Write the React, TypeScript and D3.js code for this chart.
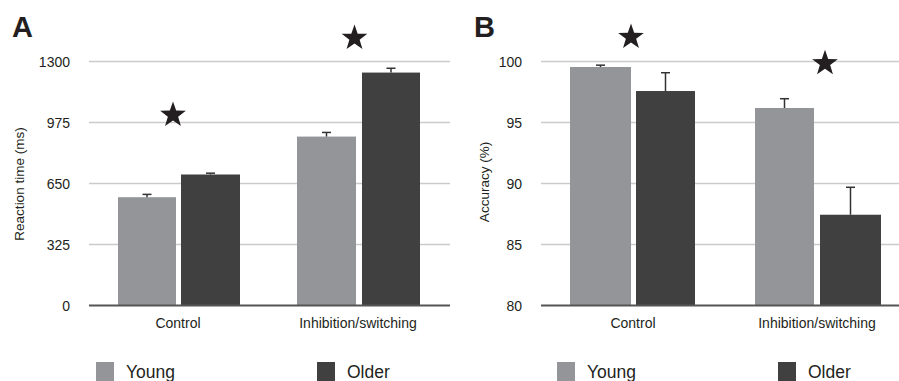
import React from "react";
import * as d3 from "d3";

const categories = ["Control", "Inhibition/switching"];
const groups = ["Young", "Older"];

// Reaction time (ms): means and standard-error sizes
const rtMeans = [[577, 698], [900, 1241]];
const rtErr = [[15, 7], [22, 23]];
const rtTicks = [0, 325, 650, 975, 1300];

// Accuracy (%): means and standard-error sizes
const accMeans = [[99.55, 97.58], [96.19, 87.44]];
const accErr = [[0.15, 1.5], [0.76, 2.25]];
const accTicks = [80, 85, 90, 95, 100];

// significance stars: height on the value axis per category
const rtStars = [1015, 1425];
const accStars = [102.0, 99.85];

const colors = ["#939598", "#404040"];
const font = "'Liberation Sans', Arial, Helvetica, sans-serif";

function starPath(cx: number, cy: number, R: number) {
  const r = R * 0.4;
  const pts: [number, number][] = [];
  for (let i = 0; i < 10; i++) {
    const a = -Math.PI / 2 + (i * Math.PI) / 5;
    const rad = i % 2 === 0 ? R : r;
    pts.push([cx + rad * Math.cos(a), cy + rad * Math.sin(a)]);
  }
  return d3.line()(pts) + "Z";
}

type PanelProps = {
  letter: string;
  left: number;
  plotLeft: number;
  plotRight: number;
  domain: [number, number];
  ticks: number[];
  means: number[][];
  err: number[][];
  stars: number[];
  starX: number[];
  yTitle: string;
  titleX: number;
  titleY: number;
  barGroups: [number, number][][];
  catCenters: number[];
  legendX: [number, number];
};

function Panel(p: PanelProps) {
  const y = d3.scaleLinear().domain(p.domain).range([305.5, 61.5]);
  return (
    <g fontFamily={font}>
      <text x={p.left} y={37} fontSize={29} fontWeight="bold" fill="#231f20">
        {p.letter}
      </text>
      {p.ticks.map((t) => (
        <g key={t}>
          {t !== p.domain[0] && (
            <line x1={p.plotLeft} x2={p.plotRight} y1={y(t)} y2={y(t)} stroke="#cbcbcb" strokeWidth={1.5} />
          )}
          <text x={p.plotLeft - 19} y={y(t) + 5} fontSize={14} textAnchor="end" fill="#231f20">
            {t}
          </text>
        </g>
      ))}
      <text
        transform={`translate(${p.titleX},${p.titleY}) rotate(-90)`}
        fontSize={13.5}
        textAnchor="middle"
        fill="#231f20"
      >
        {p.yTitle}
      </text>
      {p.means.map((row, ci) =>
        row.map((v, gi) => {
          const [x0, x1] = p.barGroups[ci][gi];
          const cx = (x0 + x1) / 2;
          const top = y(v);
          const et = y(v + p.err[ci][gi]);
          return (
            <g key={`${ci}-${gi}`}>
              <rect x={x0} y={top} width={x1 - x0} height={y(p.domain[0]) - top} fill={colors[gi]} />
              <line x1={cx} x2={cx} y1={top} y2={et} stroke="#333" strokeWidth={1.5} />
              <line x1={cx - 4.5} x2={cx + 4.5} y1={et} y2={et} stroke="#333" strokeWidth={1.5} />
            </g>
          );
        })
      )}
      <line x1={p.plotLeft} x2={p.plotRight} y1={y(p.domain[0])} y2={y(p.domain[0])} stroke="#555" strokeWidth={2} />
      {categories.map((c, i) => (
        <text key={c} x={p.catCenters[i]} y={328} fontSize={14} textAnchor="middle" fill="#231f20">
          {c}
        </text>
      ))}
      {p.stars.map((v, i) => (
        <path key={i} d={starPath(p.starX[i], y(v), 13.5)} fill="#231f20" />
      ))}
      {groups.map((g, gi) => (
        <g key={g}>
          <rect x={p.legendX[gi]} y={362} width={18} height={19} fill={colors[gi]} />
          <text x={p.legendX[gi] + 30} y={378} fontSize={17.5} fill="#231f20">
            {g}
          </text>
        </g>
      ))}
    </g>
  );
}

export default function App() {
  return (
    <svg width={899} height={381} style={{ position: "absolute", left: 0, top: 0, background: "#fff" }}>
      <Panel
        letter="A"
        left={12}
        plotLeft={89}
        plotRight={450}
        domain={[0, 1300]}
        ticks={rtTicks}
        means={rtMeans}
        err={rtErr}
        stars={rtStars}
        starX={[173, 354.5]}
        yTitle="Reaction time (ms)"
        titleX={24}
        titleY={184}
        barGroups={[[[118, 176], [181, 240]], [[297, 356], [362, 420]]]}
        catCenters={[178, 358]}
        legendX={[96, 317]}
      />
      <Panel
        letter="B"
        left={474}
        plotLeft={541}
        plotRight={899}
        domain={[80, 100]}
        ticks={accTicks}
        means={accMeans}
        err={accErr}
        stars={accStars}
        starX={[631, 825]}
        yTitle="Accuracy (%)"
        titleX={489}
        titleY={182}
        barGroups={[[[570, 631], [636, 695]], [[755, 814], [820, 881]]]}
        catCenters={[633, 817]}
        legendX={[557, 778]}
      />
    </svg>
  );
}
